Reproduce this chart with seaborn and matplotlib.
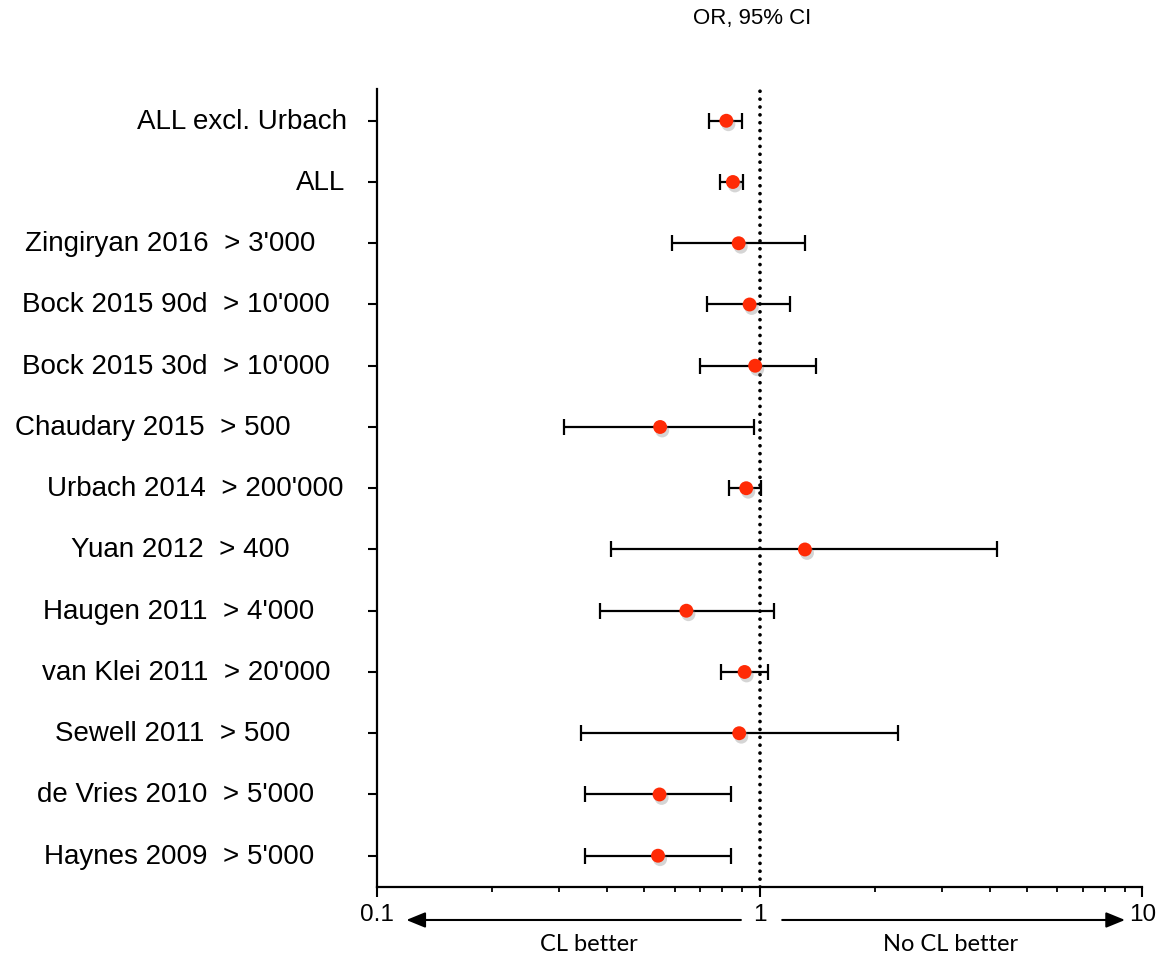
import numpy as np
import pandas as pd
import matplotlib
matplotlib.use("Agg")
import matplotlib.pyplot as plt
import matplotlib.patheffects as pe
from matplotlib.ticker import NullFormatter
import seaborn as sns

# ---------------- data ----------------
studies = [
    "ALL excl. Urbach",
    "ALL",
    "Zingiryan 2016  > 3'000",
    "Bock 2015 90d  > 10'000",
    "Bock 2015 30d  > 10'000",
    "Chaudary 2015  > 500",
    "Urbach 2014  > 200'000",
    "Yuan 2012  > 400",
    "Haugen 2011  > 4'000",
    "van Klei 2011  > 20'000",
    "Sewell 2011  > 500",
    "de Vries 2010  > 5'000",
    "Haynes 2009  > 5'000",
]
odds_ratio = [0.819, 0.852, 0.882, 0.942, 0.974, 0.550, 0.923, 1.314, 0.644, 0.914, 0.885, 0.548, 0.543]
ci_low = [0.739, 0.790, 0.592, 0.729, 0.701, 0.309, 0.832, 0.410, 0.382, 0.791, 0.341, 0.351, 0.351]
ci_high = [0.901, 0.908, 1.311, 1.200, 1.404, 0.965, 1.009, 4.170, 1.090, 1.052, 2.300, 0.840, 0.840]
x_ticks = [0.1, 1, 10]
x_tick_labels = ["0.1", "1", "10"]
title_text = "OR, 95% CI"
left_arrow_text = "CL better"
right_arrow_text = "No CL better"

# layout: extra gap (px) between each label's right end and its tick
label_gap_px = [20, 22, 52, 37, 37, 77, 24, 78, 53, 37, 77, 53, 53]

# ---------------- style ----------------
sns.set_style("ticks")
plt.rcParams["font.family"] = ["Liberation Sans", "DejaVu Sans"]

fig = plt.figure(figsize=(11.58, 9.57), dpi=100)
ax = fig.add_axes([0.3253, 0.0732, 0.6612, 0.8339])

df = pd.DataFrame({
    "study": studies,
    "OR": odds_ratio,
    "lo": ci_low,
    "hi": ci_high,
})
df["pos"] = np.arange(len(df))

# error bars
ax.errorbar(df["OR"], df["pos"],
            xerr=[df["OR"] - df["lo"], df["hi"] - df["OR"]],
            fmt="none", ecolor="black", elinewidth=1.6,
            capsize=6, capthick=1.6, zorder=2)

# reference line at OR = 1
ax.axvline(1, color="black", lw=2.7, linestyle=(0, (0.001, 2.1)),
           dash_capstyle="round", zorder=3)

# points
sns.scatterplot(data=df, x="OR", y="pos", color="#FF2B06", s=100,
                edgecolor="none", linewidth=0, ax=ax, zorder=4, legend=False)
ax.collections[-1].set_path_effects([
    pe.SimplePatchShadow(offset=(1.5, -2.5), shadow_rgbFace="#888888", alpha=0.35),
    pe.Normal(),
])

ax.set_xscale("log")
ax.set_xlim(0.1, 10)
ax.set_ylim(12.51, -0.52)
ax.set_xlabel("")
ax.set_ylabel("")

ax.set_xticks(x_ticks)
ax.set_xticklabels(x_tick_labels)
ax.xaxis.set_minor_formatter(NullFormatter())
ax.tick_params(axis="x", which="major", length=7, width=1.5, labelsize=17.5,
               pad=5, color="black", labelcolor="black")
ax.tick_params(axis="x", which="minor", length=3.6, width=1.3, color="black")

ax.set_yticks(df["pos"])
ax.set_yticklabels([])
ax.tick_params(axis="y", length=6.8, width=1.5, color="black")

for s in ["top", "right"]:
    ax.spines[s].set_visible(False)
for s in ["left", "bottom"]:
    ax.spines[s].set_linewidth(1.6)
    ax.spines[s].set_color("black")

# y labels (real text), right-aligned next to each tick
tick_len_px = 9.5
for lab, p, g in zip(df["study"], df["pos"], label_gap_px):
    ax.annotate(lab, xy=(0, p), xycoords=ax.get_yaxis_transform(),
                xytext=(-(tick_len_px + g), -1), textcoords="offset pixels",
                ha="right", va="center", fontsize=20, color="black",
                annotation_clip=False)

# title
fig.text(0.6494, 0.981, title_text, ha="center", va="center", fontsize=16,
         color="black")

# arrows under the axis
xt = ax.get_xaxis_transform()
arrow_y = -0.0414
ax.annotate("", xy=(0.1195, arrow_y), xycoords=xt,
            xytext=(0.894, arrow_y), textcoords=xt,
            arrowprops=dict(arrowstyle="-|>,head_length=11.5,head_width=4.7",
                            mutation_scale=1, lw=1.5, color="black",
                            shrinkA=0, shrinkB=0),
            annotation_clip=False)
ax.annotate("", xy=(9.01, arrow_y), xycoords=xt,
            xytext=(1.146, arrow_y), textcoords=xt,
            arrowprops=dict(arrowstyle="-|>,head_length=11.5,head_width=4.7",
                            mutation_scale=1, lw=1.5, color="black",
                            shrinkA=0, shrinkB=0),
            annotation_clip=False)

bottom_font = ["Lato", "DejaVu Sans"]
ax.text(0.359, -0.0727, left_arrow_text, transform=xt, ha="center",
        va="center", fontsize=17, family=bottom_font, color="black")
ax.text(3.15, -0.0727, right_arrow_text, transform=xt, ha="center",
        va="center", fontsize=17, family=bottom_font, color="black")

fig.savefig("out.png", dpi=100, facecolor="white")
